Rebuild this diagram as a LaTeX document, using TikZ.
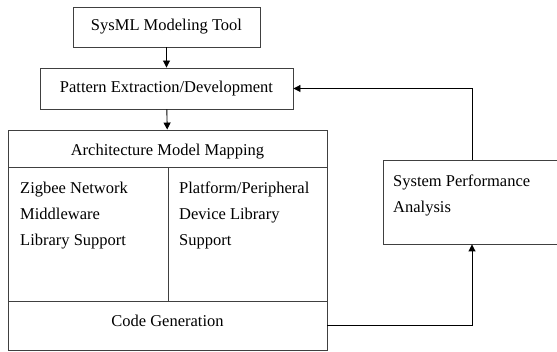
\documentclass[tikz,border=0pt]{standalone}
\usepackage{fontspec}
\setmainfont{Liberation Serif}
\usetikzlibrary{arrows.meta}
\begin{document}
\begin{tikzpicture}[x=1pt,y=-1pt,
  box/.style={draw=black!75,line width=0.9pt,rectangle,inner sep=0pt,font=\fontsize{16.5}{26}\selectfont},
  txt/.style={inner sep=0pt,align=left,anchor=north west,font=\fontsize{16.5}{26}\selectfont},
  ctxt/.style={inner sep=0pt,font=\fontsize{16.5}{26}\selectfont},
  conn/.style={draw=black,line width=0.9pt,-{Triangle[length=7pt,width=7pt]}}]
\useasboundingbox (0,0) rectangle (557,352);
\node[box,minimum width=187pt,minimum height=40pt] (sysml) at (166.5,27) {SysML Modeling Tool};
\node[box,minimum width=253pt,minimum height=41pt] (pattern) at (166.5,88.5) {Pattern Extraction/Development};
\node[box,minimum width=319pt,minimum height=37pt] (header) at (167.5,148.5) {};
\node[ctxt] (headertxt) at (167.5,152) {Architecture Model Mapping};
\node[box,minimum width=160pt,minimum height=134pt] (left) at (88,234) {};
\node[box,minimum width=159pt,minimum height=134pt] (right) at (247.5,234) {};
\node[box,minimum width=319pt,minimum height=49pt] (codegen) at (167.5,325.5) {};
\node[ctxt] (codetxt) at (167.5,320.5) {Code Generation};
\node[txt] (zig) at (20,181.7) {Zigbee Network\\Middleware\\Library Support};
\node[txt] (plat) at (179,181.7) {Platform/Peripheral\\Device Library\\Support};
\node[box,minimum width=178pt,minimum height=84pt] (spa) at (472,202) {};
\node[txt] (spatxt) at (393,174.5) {System Performance\\Analysis};
\draw[conn] (sysml) -- (pattern);
\draw[conn] (pattern) -- (header);
\draw[conn] (spa.north) |- (pattern.east);
\draw[conn] (codegen.east) -| (spa.south);
\end{tikzpicture}
\end{document}
